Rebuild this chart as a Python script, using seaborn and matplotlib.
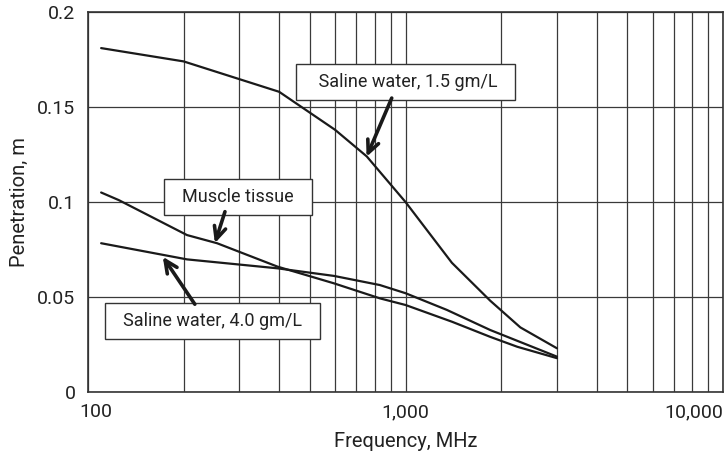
import pandas as pd
import matplotlib.pyplot as plt
import matplotlib.transforms as mtransforms
from matplotlib.ticker import FixedLocator, NullFormatter
import seaborn as sns

# Dados (frequência em MHz, penetração em m)
freq_saline15 = [110, 200, 400, 600, 755, 1000, 1400, 1850, 2300, 3000]
pen_saline15 = [0.181, 0.174, 0.158, 0.138, 0.124, 0.100, 0.068, 0.048, 0.034, 0.023]

freq_muscle = [110, 125, 205, 255, 395, 595, 830, 1000, 1400, 1850, 2250, 3000]
pen_muscle = [0.105, 0.101, 0.0826, 0.0783, 0.066, 0.0572, 0.0493, 0.0458, 0.037, 0.029, 0.0238, 0.0178]

freq_saline40 = [110, 205, 395, 595, 830, 1000, 1350, 1850, 3000]
pen_saline40 = [0.0783, 0.0698, 0.0651, 0.0611, 0.0563, 0.052, 0.0432, 0.0326, 0.0186]

x_ticks = [100, 1000, 10000]
x_tick_labels = ["100", "1,000", "10,000"]
y_ticks = [0, 0.05, 0.1, 0.15, 0.2]
y_tick_labels = ["0", "0.05", "0.1", "0.15", "0.2"]

series_names = ["Saline water, 1.5 gm/L", "Muscle tissue", "Saline water, 4.0 gm/L"]

df = pd.concat([
    pd.DataFrame({"freq": freq_saline15, "pen": pen_saline15, "serie": series_names[0]}),
    pd.DataFrame({"freq": freq_muscle, "pen": pen_muscle, "serie": series_names[1]}),
    pd.DataFrame({"freq": freq_saline40, "pen": pen_saline40, "serie": series_names[2]}),
])

sns.set_style("white")
plt.rcParams['font.family'] = ['Roboto', 'DejaVu Sans']

fig = plt.figure(figsize=(7.26, 4.61), dpi=100)
ax = fig.add_axes([88 / 726, 1 - 392 / 461, 635 / 726, 380 / 461])

sns.lineplot(data=df, x="freq", y="pen", hue="serie", units="serie", estimator=None,
             palette=["#1a1a1a"] * 3, linewidth=1.6, legend=False, sort=True, ax=ax)

ax.set_xscale("log")
ax.set_xlim(100, 10000)
ax.set_ylim(0, 0.2)

# Grade: linhas verticais em cada subdivisão logarítmica
minor = [m * d for d in (100, 1000) for m in range(2, 10)]
ax.xaxis.set_minor_locator(FixedLocator(minor))
ax.xaxis.set_minor_formatter(NullFormatter())
ax.set_xticks(x_ticks)
ax.set_xticklabels(x_tick_labels)
ax.set_yticks(y_ticks)
ax.set_yticklabels(y_tick_labels)
ax.grid(True, which="both", color="#3a3a3a", linewidth=0.9)
ax.tick_params(which="both", length=0, labelsize=14, colors="#222222")
ax.tick_params(axis="y", pad=9)
ax.tick_params(axis="x", pad=8)
for s in ax.spines.values():
    s.set_color("#333333")
    s.set_linewidth(1.2)

labels = ax.get_xticklabels()
labels[0].set_transform(labels[0].get_transform() +
                        mtransforms.ScaledTranslation(8 / 100, 0, fig.dpi_scale_trans))
labels[2].set_horizontalalignment("right")

ax.set_xlabel("Frequency, MHz", fontsize=14.5, color="#222222", labelpad=8)
ax.set_ylabel("Penetration, m", fontsize=14.5, color="#222222", labelpad=6)

box = dict(boxstyle="square,pad=0.5", facecolor="white", edgecolor="#333333", linewidth=1)
arrow = dict(arrowstyle="->,head_length=0.9,head_width=0.42", color="#1a1a1a",
             linewidth=2.6, shrinkA=0, shrinkB=0)

# Caixas de texto (espaços para alargar a caixa como no original)
ax.text(1000, 0.1634, "   " + series_names[0] + "  ", fontsize=13, ha="center",
        va="center", bbox=box, color="#222222", zorder=4)
ax.text(297, 0.1025, "  " + series_names[1] + "  ", fontsize=13, ha="center",
        va="center", bbox=box, color="#222222", zorder=4)
ax.text(246, 0.0376, "  " + series_names[2] + "  ", fontsize=13, ha="center",
        va="center", bbox=box, color="#222222", zorder=4)

# Setas
ax.annotate("", xy=(754, 0.1238), xytext=(905, 0.1547), arrowprops=arrow, zorder=5)
ax.annotate("", xy=(251, 0.0783), xytext=(270, 0.0949), arrowprops=arrow, zorder=5)
ax.annotate("", xy=(172, 0.0712), xytext=(217, 0.0462), arrowprops=arrow, zorder=5)

plt.savefig("out.png", dpi=100)
plt.close()
